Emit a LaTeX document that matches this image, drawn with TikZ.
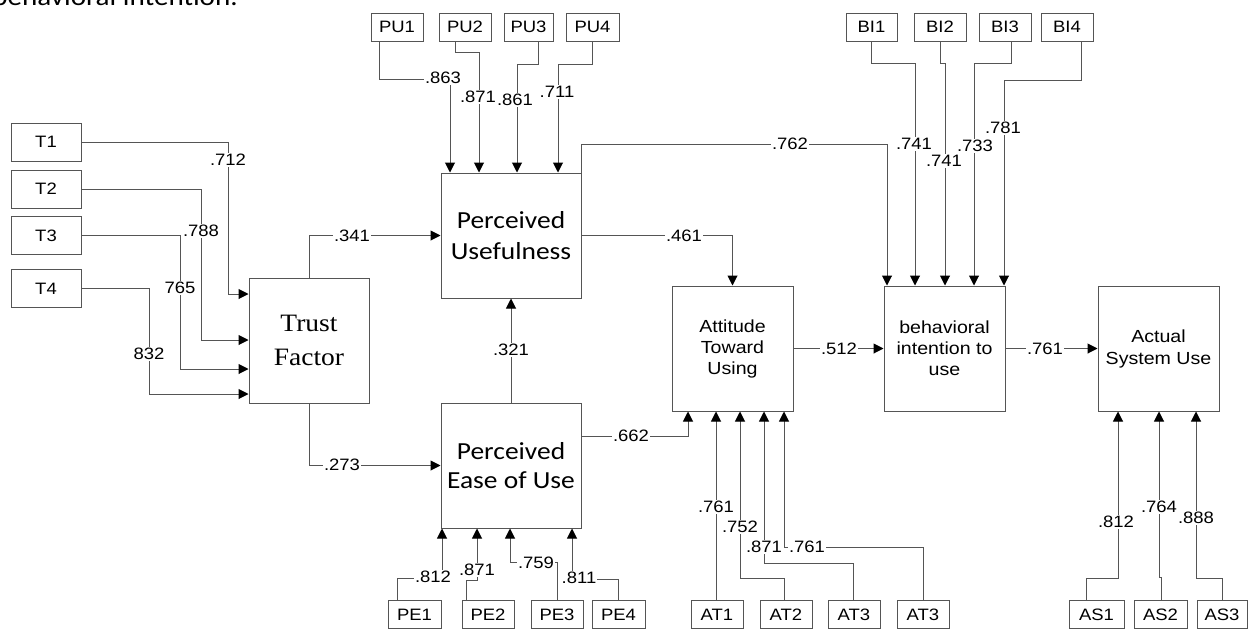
\documentclass[tikz,border=0pt]{standalone}
\usepackage{fontspec}
\setmainfont{Liberation Sans}
\newfontfamily\labfont[FakeStretch=1.12]{Liberation Sans}
\newfontfamily\calfont[FakeStretch=1.12]{Carlito}
\newfontfamily\tmsfont[FakeStretch=1.1]{Liberation Serif}
\usetikzlibrary{arrows.meta}
\definecolor{lcol}{RGB}{85,85,85}
\begin{document}
\begin{tikzpicture}[x=1pt,y=-1pt,
 ln/.style={draw=lcol, line width=1pt},
 arr/.style={ln, -{Triangle[length=10pt,width=10pt,color=black]}},
 ind/.style={draw=lcol, line width=1pt, minimum width=52pt, minimum height=28pt, inner sep=0pt, font=\labfont\fontsize{16.5}{19}\selectfont},
 tbox/.style={draw=lcol, line width=1pt, minimum width=70pt, minimum height=38pt, inner sep=0pt, font=\labfont\fontsize{16.5}{19}\selectfont},
 lv/.style={draw=lcol, line width=1pt, minimum width=121pt, minimum height=125pt, inner sep=0pt, align=center},
 cf/.style={fill=white, inner sep=1pt, font=\labfont\fontsize{16.5}{19}\selectfont},
]
\fill[white] (0,0) rectangle (1248,630);
\useasboundingbox (0,0) rectangle (1248,630);

\node[anchor=base east, font=\calfont\fontsize{26}{30}\selectfont, inner sep=0pt] (title) at (238,5) {behavioral intention.};

% latent variables
\node[lv, minimum width=120pt, font=\tmsfont\fontsize{25}{34}\selectfont] (TF) at (309,340.5) {Trust\\Factor};
\node[lv, minimum width=140pt, font=\calfont\fontsize{24.5}{31}\selectfont] (PU) at (511,235.5) {Perceived\\Usefulness};
\node[lv, minimum width=140pt, font=\calfont\fontsize{24.5}{29}\selectfont] (PEOU) at (511,465.5) {Perceived\\Ease of Use};
\node[lv, font=\labfont\fontsize{17.5}{21}\selectfont] (ATU) at (732.5,348.5) {Attitude\\Toward\\Using};
\node[lv, font=\labfont\fontsize{17.5}{21}\selectfont] (BI) at (944.5,348.5) {behavioral\\intention to\\use};
\node[lv, font=\labfont\fontsize{17.5}{22}\selectfont] (ASU) at (1158.5,348.5) {Actual\\System Use};

% T indicators
\node[tbox] (T1) at (46,142) {T1};
\node[tbox] (T2) at (46,189) {T2};
\node[tbox] (T3) at (46,235.5) {T3};
\node[tbox] (T4) at (46,288.5) {T4};

% PU indicators
\node[ind] (PU1) at (397,27) {PU1};
\node[ind] (PU2) at (465,27) {PU2};
\node[ind, minimum width=49pt] (PU3) at (528.5,27) {PU3};
\node[ind, minimum width=53pt] (PU4) at (592.5,27) {PU4};

% BI indicators
\node[ind, minimum width=51pt] (BI1) at (871.5,27) {BI1};
\node[ind] (BI2) at (940,27) {BI2};
\node[ind] (BI3) at (1005,27) {BI3};
\node[ind] (BI4) at (1067,27) {BI4};

% PE indicators
\node[ind, minimum width=53pt] (PE1) at (414.5,614.5) {PE1};
\node[ind] (PE2) at (488,614.5) {PE2};
\node[ind] (PE3) at (557,614.5) {PE3};
\node[ind, minimum width=53pt] (PE4) at (618.5,614.5) {PE4};

% AT indicators
\node[ind] (AT1) at (717,614.5) {AT1};
\node[ind] (AT2) at (786,614.5) {AT2};
\node[ind] (AT3) at (854,614.5) {AT3};
\node[ind] (AT4) at (923,614.5) {AT3};

% AS indicators
\node[ind, minimum width=55pt] (AS1) at (1096.5,614.5) {AS1};
\node[ind, minimum width=53pt] (AS2) at (1160.5,614.5) {AS2};
\node[ind, minimum width=50pt] (AS3) at (1222,614.5) {AS3};

% T -> TF
\draw[arr] (T1.east) -| (228,294) -- (TF.west |- 228,294);
\draw[arr] (T2.east) -| (201,340) -- (TF.west |- 201,340);
\draw[arr] (T3.east) -| (180,369) -- (TF.west |- 180,369);
\draw[arr] (T4.east) -| (149,394) -- (TF.west |- 149,394);
\node[cf] at (228,160) {.712};
\node[cf] at (201,231) {.788};
\node[cf] at (180,288) {765};
\node[cf] at (149,354) {832};

% structural paths
\draw[arr] (TF.north) |- (PU.west);
\node[cf] at (352,236) {.341};
\draw[arr] (TF.south) |- (PEOU.west);
\node[cf] at (342,465) {.273};
\draw[arr] (PEOU.north) -- (PU.south);
\node[cf] at (511,350) {.321};
\draw[arr] (PU.east) -| (ATU.north);
\node[cf] at (684,236) {.461};
\draw[arr] (PEOU.east |- 0,436) -| (ATU.south -| 688,0);
\node[cf] at (631,436) {.662};
\draw[arr] (ATU.east) -- (BI.west);
\node[cf] at (839,349) {.512};
\draw[arr] (BI.east) -- (ASU.west);
\node[cf] at (1045,349) {.761};
\draw[arr] (PU.north east) |- (887,144) -- (BI.north -| 887,0);
\node[cf] at (790,144) {.762};

% PU indicator paths
\draw[arr] (379,0 |- PU1.south) |- (450,79) -- (PU.north -| 450,0);
\draw[arr] (455,0 |- PU2.south) |- (479,52) -- (PU.north -| 479,0);
\draw[arr] (538,0 |- PU3.south) |- (517,64) -- (PU.north -| 517,0);
\draw[arr] (PU4.south) |- (558,64) -- (PU.north -| 558,0);
\node[cf] at (443,78) {.863};
\node[cf] at (478,97) {.871};
\node[cf] at (515,100) {.861};
\node[cf] at (557,92) {.711};

% BI indicator paths
\draw[arr] (BI1.south) |- (915,63) -- (BI.north -| 915,0);
\draw[arr] (BI2.south) |- (945,63) -- (BI.north -| 945,0);
\draw[arr] (1011,0 |- BI3.south) |- (974,63) -- (BI.north -| 974,0);
\draw[arr] (1081,0 |- BI4.south) |- (1004,80) -- (BI.north -| 1004,0);
\node[cf] at (914,144) {.741};
\node[cf] at (944,161) {.741};
\node[cf] at (975,146) {.733};
\node[cf] at (1003,128) {.781};

% PE indicator paths
\draw[arr] (397,0 |- PE1.north) |- (442,578) -- (PEOU.south -| 442,0);
\draw[arr] (466,0 |- PE2.north) |- (477,580) -- (PEOU.south -| 477,0);
\draw[arr] (PE3.north) |- (510,562) -- (PEOU.south -| 510,0);
\draw[arr] (PE4.north) |- (572,579) -- (PEOU.south -| 572,0);
\node[cf] at (433,577) {.812};
\node[cf] at (477,570) {.871};
\node[cf] at (536,563) {.759};
\node[cf] at (579,578) {.811};

% AT indicator paths
\draw[arr] (716,0 |- AT1.north) -- (ATU.south -| 716,0);
\draw[arr] (784,0 |- AT2.north) |- (740,578) -- (ATU.south -| 740,0);
\draw[arr] (853,0 |- AT3.north) |- (764,563) -- (ATU.south -| 764,0);
\draw[arr] (AT4.north) |- (784,547) -- (ATU.south -| 784,0);
\node[cf] at (716,507) {.761};
\node[cf] at (740,527) {.752};
\node[cf] at (764,547) {.871};
\node[cf] at (807,547) {.761};

% AS indicator paths
\draw[arr] (1086,0 |- AS1.north) |- (1118,578) -- (ASU.south -| 1118,0);
\draw[arr] (1161,0 |- AS2.north) |- (1159,577) -- (ASU.south -| 1159,0);
\draw[arr] (AS3.north) |- (1196,578) -- (ASU.south -| 1196,0);
\node[cf] at (1116,522) {.812};
\node[cf] at (1159,507) {.764};
\node[cf] at (1196,518) {.888};
\end{tikzpicture}
\end{document}
